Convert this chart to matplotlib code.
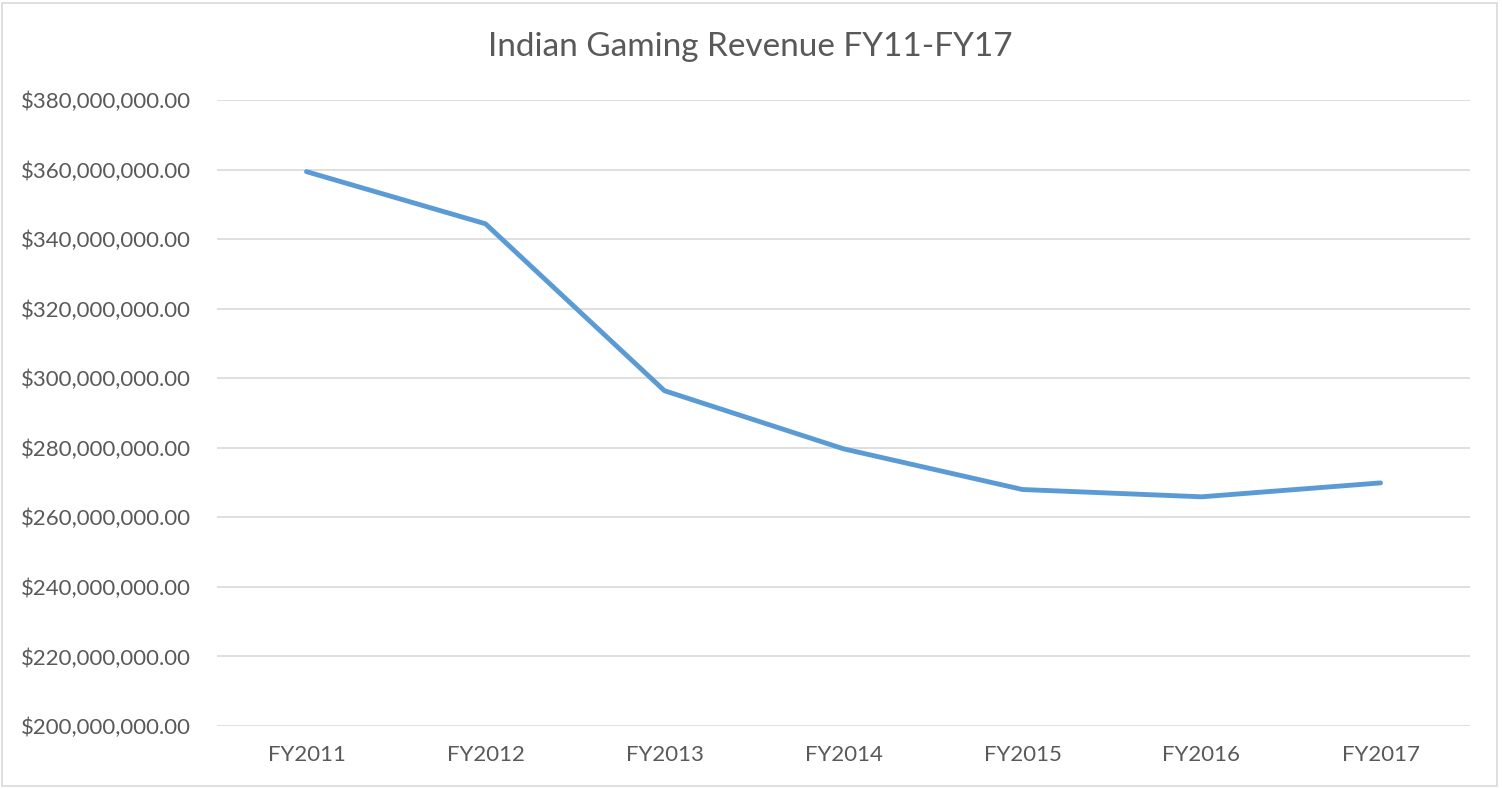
import matplotlib.pyplot as plt
from matplotlib.patches import Rectangle
from matplotlib.ticker import FuncFormatter

years = ['FY2011', 'FY2012', 'FY2013', 'FY2014', 'FY2015', 'FY2016', 'FY2017']
revenue = [359.4e6, 344.4e6, 296.4e6, 279.7e6, 268.0e6, 265.9e6, 269.9e6]
y_ticks = [200e6, 220e6, 240e6, 260e6, 280e6, 300e6, 320e6, 340e6, 360e6, 380e6]

plt.rcParams['font.family'] = ['Lato', 'DejaVu Sans']
text_color = '#595959'

W, H = 1502, 789
fig = plt.figure(figsize=(W / 100, H / 100), dpi=100)
ax = fig.add_axes([217 / W, 1 - 726 / H, (1470 - 217) / W, (726 - 100) / H])

# chart border
fig.patches.append(Rectangle((2 / W, 3 / H), (1497 - 2) / W, (786 - 3) / H,
                             transform=fig.transFigure, fill=False,
                             edgecolor='#D9D9D9', linewidth=1.2))

ax.plot(range(len(years)), revenue, color='#5B9BD5', linewidth=3.5,
        solid_capstyle='round', solid_joinstyle='round', zorder=3)

ax.set_xlim(-0.5, len(years) - 0.5)
ax.set_ylim(200e6, 380e6)
ax.set_yticks(y_ticks)
ax.yaxis.set_major_formatter(FuncFormatter(lambda v, p: f'${v:,.2f}'))
ax.set_xticks(range(len(years)))
ax.set_xticklabels(years)

ax.grid(axis='y', color='#D9D9D9', linewidth=1.2)
ax.set_axisbelow(True)
for s in ax.spines.values():
    s.set_visible(False)
ax.tick_params(length=0, labelsize=16, colors=text_color, pad=19)
ax.tick_params(axis='x', pad=14)

fig.text((488 + 1013) / 2 / W, 1 - 47 / H, 'Indian Gaming Revenue FY11-FY17',
         ha='center', va='center', fontsize=24, color=text_color)

fig.savefig('out.png', dpi=100)
